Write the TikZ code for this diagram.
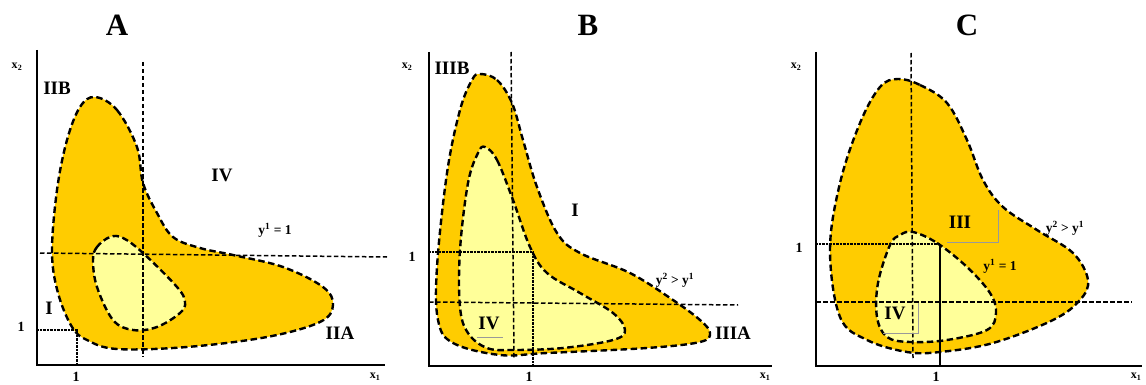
\documentclass[tikz,border=0pt]{standalone}
\usepackage{fontspec}
\setmainfont{Liberation Serif}
\begin{document}
\begin{tikzpicture}[x=1pt,y=-1pt,
  outerfill/.style={fill=gold},
  innerfill/.style={fill=paleyellow},
  bound/.style={draw=black,line width=2.4pt,dash pattern=on 6.5pt off 3.5pt},
  guide/.style={draw=black,line width=1.5pt,dash pattern=on 4.5pt off 2.5pt},
  unitline/.style={draw=black,line width=1.6pt,dash pattern=on 1pt off 0.4pt},
  axis/.style={draw=black,line width=2pt},
  gray/.style={draw=gray!80,line width=0.9pt},
  title/.style={font=\fontsize{31}{31}\selectfont\bfseries},
  reg/.style={font=\fontsize{19}{19}\selectfont\bfseries},
  lab/.style={font=\fontsize{14}{14}\selectfont\bfseries},
  small/.style={font=\fontsize{13.5}{13.5}\selectfont\bfseries},
  ax/.style={font=\fontsize{12}{12}\selectfont\bfseries}]
\definecolor{gold}{HTML}{FFCC00}
\definecolor{paleyellow}{HTML}{FFFF99}
\useasboundingbox (0,0) rectangle (1146,385);

% ---------- Panel A ----------
\path[outerfill,bound] plot[smooth cycle,tension=0.6] coordinates {(95,97) (117,110) (137,147) (143,183) (157,213) (173,237) (200,248) (233,255) (283,267) (323,287) (333,305) (320,322) (267,337) (187,347) (117,349) (87,340) (72,327) (58,293) (52,252) (57,190) (67,140) (80,107)};
\path[innerfill,bound] plot[smooth cycle,tension=0.6] coordinates {(110,237) (97,247) (93,260) (97,287) (113,320) (133,330) (157,327) (180,313) (185,302) (177,287) (143,253) (123,238)};
\draw[guide] (143,62) -- (143,357);
\draw[guide] (40,253) -- (387,257);
\draw[unitline] (37,330) -- (77,330) -- (77,365);
\draw[axis] (37,50) -- (37,365) -- (385,365);
\node[title] (tA) at (117,25) {A};
\node[ax] (x2A) at (17,67) {x\textsubscript{2}};
\node[ax] (x1A) at (375,377) {x\textsubscript{1}};
\node[reg] (IIB) at (57,88) {IIB};
\node[reg] (IVA) at (222,175) {IV};
\node[small] (yA) at (275,230) {y\textsuperscript{1} = 1};
\node[reg] (IA) at (49,308) {I};
\node[reg] (IIA) at (340,333) {IIA};
\node[lab] (oneyA) at (21,327) {1};
\node[lab] (onexA) at (76,377) {1};

% ---------- Panel B ----------
\path[outerfill,bound] plot[smooth cycle,tension=0.6] coordinates {(480,74) (497,80) (512,103) (523,140) (537,187) (557,233) (580,253) (630,273) (673,300) (700,320) (710,333) (700,342) (647,348) (547,353) (500,355) (453,343) (438,320) (437,267) (447,173) (460,110) (472,80)};
\path[innerfill,bound] plot[smooth cycle,tension=0.6] coordinates {(485,147) (497,160) (513,200) (530,247) (547,273) (580,293) (613,313) (625,330) (613,340) (563,348) (513,350) (487,348) (468,333) (460,307) (460,250) (468,183) (478,153)};
\draw[guide] (511,52) -- (514,358);
\draw[guide] (429,302) -- (738,305);
\draw[unitline] (429,252) -- (533,252) -- (533,366);
\draw[axis] (429,52) -- (429,366) -- (772,366);
\node[title] (tB) at (588,25) {B};
\node[ax] (x2B) at (407,67) {x\textsubscript{2}};
\node[ax] (x1B) at (765,377) {x\textsubscript{1}};
\node[reg] (IIIB) at (452,68) {IIIB};
\node[reg] (IB) at (575,210) {I};
\node[small] (yB) at (675,280) {y\textsuperscript{2} > y\textsuperscript{1}};
\node[reg] (IIIA) at (733,333) {IIIA};
\node[reg] (IVB) at (489,323) {IV};
\draw[gray] (477,337) -- (503,337);
\node[lab] (oneyB) at (412,257) {1};
\node[lab] (onexB) at (529,377) {1};

% ---------- Panel C ----------
\path[outerfill,bound] plot[smooth cycle,tension=0.6] coordinates {(898,79) (920,85) (947,103) (967,140) (983,180) (1003,207) (1037,230) (1073,253) (1088,280) (1080,300) (1053,320) (993,343) (940,352) (907,352) (867,340) (840,317) (830,250) (840,183) (860,123) (880,87)};
\path[innerfill,bound] plot[smooth cycle,tension=0.6] coordinates {(913,232) (937,243) (967,267) (990,293) (996,313) (987,330) (947,340) (910,342) (887,337) (877,317) (878,283) (890,245) (900,235)};
\draw[guide] (911,53) -- (913,358);
\draw[guide] (816,302) -- (1132,302);
\draw[unitline] (816,244) -- (940,244);
\draw[draw=black,line width=1.4pt] (940,244) -- (940,366);
\draw[axis] (816,52) -- (816,366) -- (1142,366);
\node[title] (tC) at (967,25) {C};
\node[ax] (x2C) at (796,67) {x\textsubscript{2}};
\node[ax] (x1C) at (1136,377) {x\textsubscript{1}};
\node[reg] (IIIC) at (960,222) {III};
\draw[gray] (947,242) -- (998,242) -- (998,210);
\node[small] (y2C) at (1065,228) {y\textsuperscript{2} > y\textsuperscript{1}};
\node[small] (y1C) at (1000,266) {y\textsuperscript{1} = 1};
\node[reg] (IVC) at (895,313) {IV};
\draw[gray] (883,333) -- (918,333) -- (918,303);
\node[lab] (oneyC) at (799,248) {1};
\node[lab] (onexC) at (936,377) {1};
\end{tikzpicture}
\end{document}
